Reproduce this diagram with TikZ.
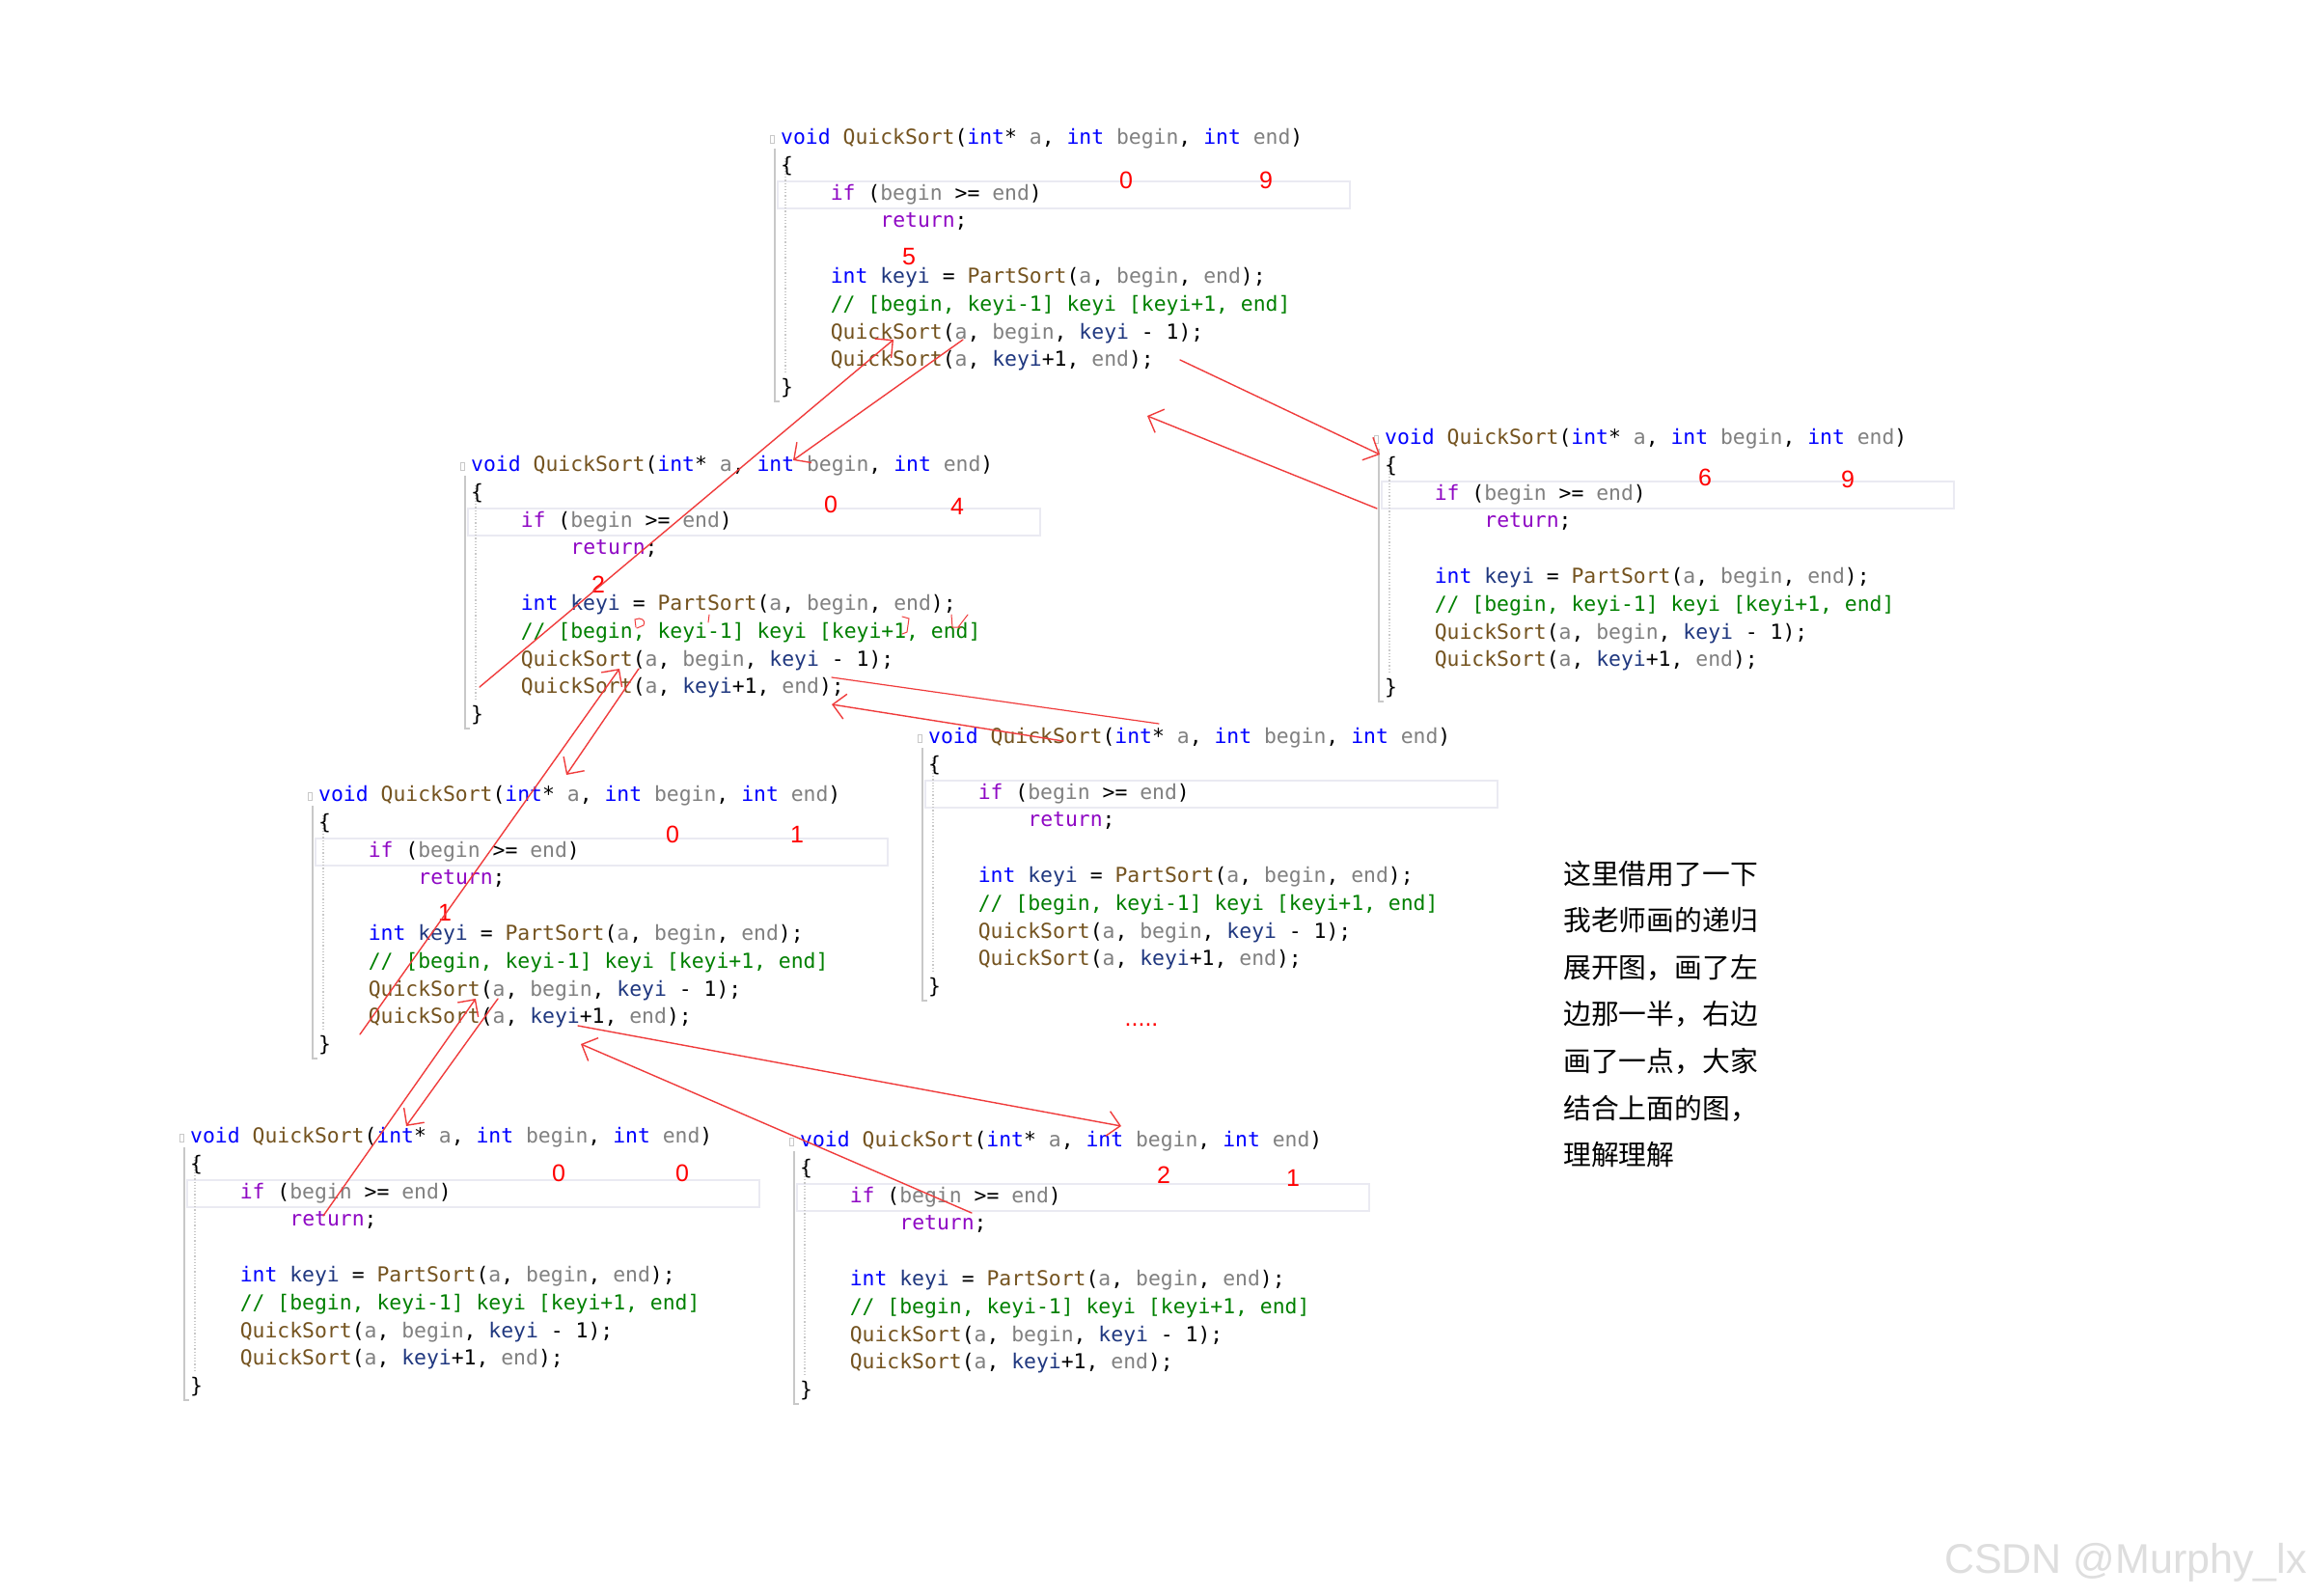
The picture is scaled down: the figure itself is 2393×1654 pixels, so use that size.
\documentclass[tikz,border=0pt]{standalone}
\usepackage{fontspec}
\setmainfont{Liberation Sans}
\newfontfamily\codefont{DejaVu Sans Mono}
\newfontfamily\cjkfont{Noto Sans CJK SC}
\usetikzlibrary{arrows.meta}
\definecolor{kwblue}{HTML}{0000FF}
\definecolor{fnbrown}{HTML}{74531F}
\definecolor{pargray}{HTML}{808080}
\definecolor{ctlpurple}{HTML}{8F08C4}
\definecolor{varblue}{HTML}{1F377F}
\definecolor{cmtgreen}{HTML}{008000}
\definecolor{pen}{HTML}{F03C3C}
\definecolor{bargray}{HTML}{C8C8C8}
\definecolor{hlgray}{HTML}{EAEAF2}

\newcommand{\cKw}[1]{\textcolor{kwblue}{#1}}
\newcommand{\cFn}[1]{\textcolor{fnbrown}{#1}}
\newcommand{\cPar}[1]{\textcolor{pargray}{#1}}
\newcommand{\cCtl}[1]{\textcolor{ctlpurple}{#1}}
\newcommand{\cVar}[1]{\textcolor{varblue}{#1}}
\newcommand{\cCmt}[1]{\textcolor{cmtgreen}{#1}}

% one frame of QuickSort: #1 name, (#2,#3) start of its first line
\newcommand{\codeblock}[3]{%
\begin{scope}[shift={(#2,#3)}]
  \draw[curline] (-3,44) rectangle (590,72);
  \draw[gutter] (-6,10) -- (-6,272) -- (-1,272);
  \draw[gutter, dotted] (5,20) -- (5,243);
  \draw[gutter, line width=0.8pt] (-11,-4) rectangle (-7,4);
  \node[code] (#1-0) at (0,0) {\cKw{void} \cFn{QuickSort}(\cKw{int}* \cPar{a}, \cKw{int} \cPar{begin}, \cKw{int} \cPar{end})};
  \node[code] (#1-1) at (0,28.8) {\{};
  \node[code] (#1-2) at (51.6,57.6) {\cCtl{if} (\cPar{begin} >= \cPar{end})};
  \node[code] (#1-3) at (103.2,86.4) {\cCtl{return};};
  \node[code] (#1-5) at (51.6,144) {\cKw{int} \cVar{keyi} = \cFn{PartSort}(\cPar{a}, \cPar{begin}, \cPar{end});};
  \node[code] (#1-6) at (51.6,172.8) {\cCmt{// [begin, keyi-1] keyi [keyi+1, end]}};
  \node[code] (#1-7) at (51.6,201.6) {\cFn{QuickSort}(\cPar{a}, \cPar{begin}, \cVar{keyi} - 1);};
  \node[code] (#1-8) at (51.6,230.4) {\cFn{QuickSort}(\cPar{a}, \cVar{keyi}+1, \cPar{end});};
  \node[code] (#1-9) at (0,259.2) {\}};
\end{scope}}

\begin{document}
\begin{tikzpicture}[x=1pt, y=-1pt,
    code/.style={anchor=west, inner sep=0pt, text height=16pt, text depth=5pt,
        font=\codefont\fontsize{21.4}{28.8}\selectfont},
    curline/.style={draw=hlgray, line width=1.6pt},
    gutter/.style={draw=bargray, line width=1.2pt},
    num/.style={text=red, inner sep=0pt, font=\fontsize{25}{25}\selectfont},
    note/.style={anchor=base west, inner sep=0pt, font=\cjkfont\fontsize{28.8}{48.6}\selectfont},
    call/.style={draw=pen, line width=1.4pt, line cap=round,
        -{Straight Barb[length=13pt, width=26pt]}},
    stroke/.style={draw=pen, line width=1.2pt, line cap=round},
]
\useasboundingbox (0,0) rectangle (2393,1654);
\fill[white] (0,0) rectangle (2393,1654);

% the seven frames of the recursion
\codeblock{qs09}{809}{144}
\codeblock{qs69}{1435}{455}
\codeblock{qs04}{488}{483}
\codeblock{qsmid}{962}{765}
\codeblock{qs01}{330}{825}
\codeblock{qs00}{197}{1179}
\codeblock{qs21}{829}{1183}

% begin / end values written over each frame
\node[num] (qs09-b) at (1167,187) {0};
\node[num] (qs09-e) at (1312,187) {9};
\node[num] (qs09-k) at (942,266) {5};
\node[num] (qs69-b) at (1767,495) {6};
\node[num] (qs69-e) at (1915,497) {9};
\node[num] (qs04-b) at (861,523) {0};
\node[num] (qs04-e) at (992,525) {4};
\node[num] (qs04-k) at (620,606) {2};
\node[num] (qs01-b) at (697,865) {0};
\node[num] (qs01-e) at (826,865) {1};
\node[num] (qs01-k) at (461,946) {1};
\node[num] (qs00-b) at (579,1216) {0};
\node[num] (qs00-e) at (707,1216) {0};
\node[num] (qs21-b) at (1206,1218) {2};
\node[num] (qs21-e) at (1340,1221) {1};
\node[num] (more) at (1183,1062) {.....};

% ends of the hand-drawn strokes
\foreach \n/\x/\y in {c1s/998/352, c1e/822/477, c2s/1223/373, c2e/1430/471,
    c3s/662/693, c3e/587/803, c4s/862/702, c4e/1201/750,
    c5s/516/1035, c5e/421/1167, c6s/599/1063, c6e/1162/1167,
    r1s/497/712, r1e/926/352, r2s/1427/527, r2e/1189/431,
    r3s/373/1072, r3e/642/693, r4s/1102/768, r4e/862/730,
    r5s/335/1260, r5e/493/1035, r6s/1007/1257, r6e/602/1082}
  \coordinate (\n) at (\x,\y);

% calls going down
\draw[call] (c1s) -- (c1e);
\draw[call] (c2s) -- (c2e);
\draw[call] (c3s) -- (c3e);
\draw[stroke] (c4s) -- (c4e);
\draw[call] (c5s) -- (c5e);
\draw[call] (c6s) -- (c6e);

% returns coming back
\draw[call] (r1s) -- (r1e);
\draw[call] (r2s) -- (r2e);
\draw[call] (r3s) -- (r3e);
\draw[call] (r4s) -- (r4e);
\draw[call] (r5s) -- (r5e);
\draw[call] (r6s) -- (r6e);

% little marks on the comment line
\draw[stroke, line width=1pt] (659,650) -- (658,642) .. controls (664,639) and (670,643) .. (667,648) -- (660,651);
\draw[stroke, line width=1pt] (735,637) -- (734,645);
\draw[stroke, line width=1pt] (935,639) -- (942,641) -- (940,655) -- (935,657);
\draw[stroke, line width=1pt] (986,637) -- (987,650) -- (996,650) (993,650) -- (1003,637);

% note on the right
\foreach \t [count=\i from 0] in {这里借用了一下,我老师画的递归,展开图，画了左,边那一半，右边,画了一点，大家,结合上面的图，,理解理解}
  \node[note] (note-\i) at (1620, 916+48.6*\i) {\t};

\node[anchor=base west, inner sep=0pt, text=black!13, font=\fontsize{43}{43}\selectfont]
    (mark) at (2015,1630) {CSDN @Murphy\_lx};
\end{tikzpicture}
\end{document}
